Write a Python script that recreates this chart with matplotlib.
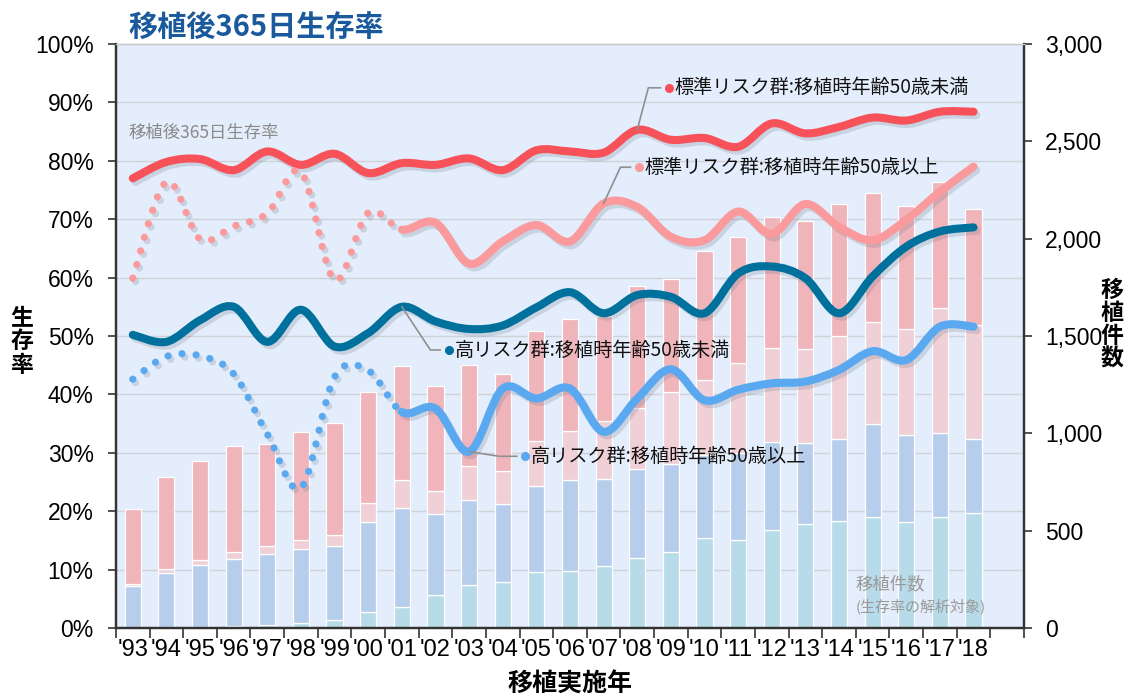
import numpy as np
import matplotlib
matplotlib.use('Agg')
import matplotlib.pyplot as plt
from matplotlib.path import Path
from matplotlib.patches import PathPatch
import matplotlib.patheffects as pe
from matplotlib.ticker import FuncFormatter

plt.rcParams['font.family'] = ['Liberation Sans', 'Noto Sans CJK JP']
JP = ['Noto Sans CJK JP', 'DejaVu Sans']

years = ["'93", "'94", "'95", "'96", "'97", "'98", "'99", "'00", "'01", "'02",
         "'03", "'04", "'05", "'06", "'07", "'08", "'09", "'10", "'11", "'12",
         "'13", "'14", "'15", "'16", "'17", "'18"]

# survival rate at 365 days (%)
std_young = [77.0, 79.8, 80.3, 78.4, 81.6, 79.3, 81.2, 77.9, 79.6, 79.3, 80.4, 78.4, 81.8,
             81.6, 81.4, 85.3, 83.6, 83.9, 82.4, 86.4, 84.7, 85.8, 87.4, 86.9, 88.4, 88.4]
std_old = [59.9, 76.4, 66.6, 68.8, 71.0, 78.1, 59.6, 71.1, 68.2, 69.4, 62.4, 66.2, 69.0,
           66.2, 72.7, 72.1, 67.0, 66.4, 71.3, 67.5, 72.6, 68.7, 66.4, 69.9, 74.7, 79.0]
high_young = [50.2, 49.0, 52.7, 55.0, 49.0, 54.5, 48.2, 50.5, 55.0, 52.5, 51.2, 51.8, 54.9,
              57.5, 53.9, 57.0, 56.7, 53.9, 60.7, 61.9, 59.9, 53.9, 60.2, 65.3, 67.9, 68.6]
high_old = [42.6, 46.5, 46.6, 43.5, 33.2, 24.0, 43.0, 44.1, 37.0, 37.6, 30.2, 41.0, 39.3,
            41.0, 33.6, 39.3, 44.3, 39.0, 40.8, 41.9, 42.2, 44.2, 47.4, 45.9, 51.6, 51.6]

# number of transplants (stacked)
n_high_old = [2, 5, 7, 12, 15, 27, 41, 84, 109, 168, 223, 236, 288,
              293, 317, 360, 390, 461, 450, 502, 534, 550, 569, 546, 569, 589]
n_high_young = [215, 276, 315, 344, 365, 377, 379, 459, 506, 416, 433, 399, 441,
                466, 448, 455, 451, 429, 450, 455, 418, 422, 481, 447, 433, 382]
n_std_old = [11, 20, 27, 34, 41, 46, 59, 97, 144, 121, 176, 171, 232,
             251, 300, 317, 370, 384, 460, 480, 480, 528, 522, 541, 640, 584]
n_std_young = [382, 476, 507, 547, 526, 558, 574, 574, 585, 536, 517, 497, 565,
               577, 538, 625, 580, 661, 650, 673, 659, 680, 664, 635, 651, 597]

labels = ['標準リスク群:移植時年齢50歳未満', '標準リスク群:移植時年齢50歳以上',
          '高リスク群:移植時年齢50歳未満', '高リスク群:移植時年齢50歳以上']


def bezier_segments(xs, ys, start, stop):
    # Excel-like smoothed line: cubic bezier pieces between consecutive points
    n = len(xs)
    verts = [(xs[start], ys[start])]
    codes = [Path.MOVETO]
    for i in range(start, stop):
        a = max(i - 1, 0)
        d = min(i + 2, n - 1)
        c1 = (xs[i] + (xs[i + 1] - xs[a]) / 6, ys[i] + (ys[i + 1] - ys[a]) / 6)
        c2 = (xs[i + 1] - (xs[d] - xs[i]) / 6, ys[i + 1] - (ys[d] - ys[i]) / 6)
        verts += [c1, c2, (xs[i + 1], ys[i + 1])]
        codes += [Path.CURVE4] * 3
    return Path(verts, codes)


fig = plt.figure(figsize=(11.27, 6.96), dpi=100)
ax = fig.add_axes([0.1029, 0.0977, 0.8057, 0.8391])
ax.set_facecolor('#e3edfb')
ax2 = ax.twinx()

x = np.arange(len(years))

# bars on the count axis (right)
w = 0.48
b1 = np.array(n_high_old)
b2 = b1 + np.array(n_high_young)
b3 = b2 + np.array(n_std_old)
kw = dict(width=w, edgecolor='white', linewidth=0.9, zorder=2)
ax.bar(x, n_high_old, color='#b7dbe8', **kw)
ax.bar(x, n_high_young, bottom=b1, color='#b7cdec', **kw)
ax.bar(x, n_std_old, bottom=b2, color='#f0d0d7', **kw)
ax.bar(x, n_std_young, bottom=b3, color='#f0b4bb', **kw)

ax.set_ylim(0, 3000)
ax.set_xlim(-0.5, 26.5)
ax.yaxis.tick_right()
ax.yaxis.set_label_position('right')
ax.set_yticks(np.arange(0, 3001, 500))
ax.yaxis.set_major_formatter(FuncFormatter(lambda v, p: f'{int(v):,}'))
for g in np.arange(300, 3000, 300):
    ax.axhline(g, color='#cfd3d9', linewidth=1.0, zorder=1)

# survival lines on the percentage axis (left)
ax2.yaxis.tick_left()
ax2.set_ylim(0, 100)
ax2.set_yticks(np.arange(0, 101, 10))
ax2.yaxis.set_major_formatter(FuncFormatter(lambda v, p: f'{int(v)}%'))

shadow = [pe.SimpleLineShadow(offset=(2, -2.5), shadow_color='#6a7585', alpha=0.22),
          pe.Normal()]
series = [(std_young, '#f7525a', None), (std_old, '#fa9a9c', 8),
          (high_young, '#00709c', None), (high_old, '#5aa9f0', 8)]
for vals, col, split in series:
    if split is None:
        p = PathPatch(bezier_segments(x, vals, 0, len(x) - 1), fill=False,
                      edgecolor=col, linewidth=5.8, capstyle='round', joinstyle='round')
        p.set_path_effects(shadow)
        ax2.add_patch(p)
    else:
        p = PathPatch(bezier_segments(x, vals, 0, split), fill=False,
                      edgecolor=col, linewidth=5.2, capstyle='round',
                      linestyle=(0, (0.01, 1.95)))
        p.set_path_effects(shadow)
        ax2.add_patch(p)
        p = PathPatch(bezier_segments(x, vals, split, len(x) - 1), fill=False,
                      edgecolor=col, linewidth=5.8, capstyle='round', joinstyle='round')
        p.set_path_effects(shadow)
        ax2.add_patch(p)

# leader lines + labels
callouts = [
    (std_young, 15, (15.33, 92.5), 15.69, '#f7525a', labels[0]),
    (std_old, 14, (14.5, 78.9), 14.8, '#fa9a9c', labels[1]),
    (high_young, 8, (8.85, 47.6), 9.14, '#00709c', labels[2]),
    (high_old, 10, (10.9, 29.4), 11.42, '#5aa9f0', labels[3]),
]
for vals, i, elbow, xend, col, txt in callouts:
    ax2.plot([x[i], elbow[0], xend], [vals[i], elbow[1], elbow[1]],
             color='#909090', linewidth=1.2, zorder=5)
    ax2.plot(xend + 0.25, elbow[1], 'o', color=col, markersize=5.5, zorder=6)
    ax2.text(xend + 0.42, elbow[1], txt, family=JP, fontsize=13.8,
             va='center', ha='left', color='#111111', zorder=6)

ax2.text(-0.14, 84.8, '移植後365日生存率', family=JP, fontsize=12.5,
         color='#8a8a8a', va='center', ha='left')
ax2.text(21.49, 7.4, '移植件数', family=JP, fontsize=12.5, color='#9a9a9a',
         va='center', ha='left')
ax2.text(21.5, 3.8, '(生存率の解析対象)', family=JP, fontsize=10.8, color='#9a9a9a',
         va='center', ha='left')

# x axis: ticks at the bin edges, labels at the centres
ax.set_xticks(np.arange(-0.5, 27, 1))
ax.set_xticklabels([])
ax.set_xticks(x, minor=True)
ax.set_xticklabels(years, minor=True)
ax.tick_params(axis='x', which='major', length=7, width=1.2, color='#333333')
ax.tick_params(axis='x', which='minor', length=0, pad=8, labelsize=17)
ax.tick_params(axis='y', length=6, width=1.2, color='#333333', pad=9, labelsize=16.5)
ax2.tick_params(axis='y', length=6, width=1.2, color='#333333', pad=10, labelsize=16.5)
ax2.set_xlim(-0.5, 26.5)

for a in (ax, ax2):
    for s in ('left', 'right', 'bottom'):
        a.spines[s].set_color('#333333')
        a.spines[s].set_linewidth(1.6)
    a.spines['top'].set_color('#cccccc')
    a.spines['top'].set_linewidth(1.0)

fig.text(128 / 1127, 1 - 27 / 696, '移植後365日生存率', family=JP, fontsize=21,
         fontweight='bold', color='#1a5a9c', va='center', ha='left')
fig.text(22 / 1127, 1 - 342 / 696, '生\n存\n率', family=JP, fontsize=16.5,
         fontweight='bold', va='center', ha='center', linespacing=1.0)
fig.text(1112 / 1127, 1 - 325 / 696, '移\n植\n件\n数', family=JP, fontsize=16.5,
         fontweight='bold', va='center', ha='center', linespacing=1.0)
fig.text(570 / 1127, 1 - 684 / 696, '移植実施年', family=JP, fontsize=18,
         fontweight='bold', va='center', ha='center')

fig.savefig('out.png', dpi=100)
